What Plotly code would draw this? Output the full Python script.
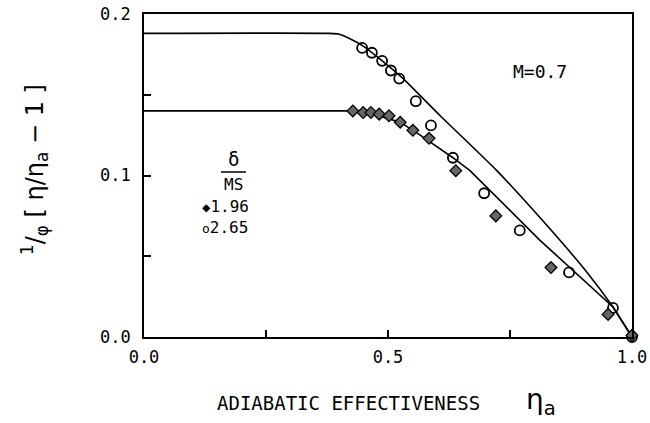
import plotly.graph_objects as go

# ---- data ----
circ_x = [0.447, 0.467, 0.488, 0.506, 0.523, 0.557, 0.588, 0.633, 0.697, 0.770, 0.871, 0.961, 1.002, 1.000]
circ_y = [0.179, 0.176, 0.171, 0.165, 0.160, 0.146, 0.131, 0.111, 0.089, 0.066, 0.040, 0.018, 0.006, 0.000]

diam_x = [0.428, 0.449, 0.465, 0.482, 0.502, 0.525, 0.551, 0.584, 0.639, 0.721, 0.834, 0.951, 1.000]
diam_y = [0.140, 0.139, 0.139, 0.138, 0.137, 0.133, 0.128, 0.123, 0.103, 0.075, 0.043, 0.014, 0.001]

upper_x = [0.0, 0.38, 0.40, 0.42, 0.45, 0.48, 0.531, 0.607, 0.723, 0.82, 0.908, 0.96, 1.0]
upper_y = [0.188, 0.188, 0.1875, 0.185, 0.180, 0.173, 0.160, 0.137, 0.103, 0.071, 0.040, 0.019, 0.0]

lower_x = [0.0, 0.426, 0.47, 0.525, 0.566, 0.633, 0.668, 0.811, 0.961, 1.0]
lower_y = [0.140, 0.140, 0.138, 0.133, 0.125, 0.111, 0.103, 0.060, 0.0186, 0.0]

x_tickvals = [0.0, 0.5, 1.0]
x_ticktext = ["0.0", "0.5", "1.0"]
y_tickvals = [0.0, 0.1, 0.2]
y_ticktext = ["0.0", "0.1", "0.2"]
legend_labels = ["1.96", "2.65"]

FONT = "DejaVu Sans Mono"

fig = go.Figure()
fig.add_trace(go.Scatter(x=upper_x, y=upper_y, mode="lines",
                         line=dict(color="black", width=1.6, shape="spline", smoothing=0.5),
                         showlegend=False))
fig.add_trace(go.Scatter(x=lower_x, y=lower_y, mode="lines",
                         line=dict(color="black", width=1.6), showlegend=False))
fig.add_trace(go.Scatter(x=circ_x, y=circ_y, mode="markers", cliponaxis=False,
                         marker=dict(symbol="circle-open", size=10, color="black",
                                     line=dict(width=1.8, color="black")),
                         showlegend=False))
fig.add_trace(go.Scatter(x=diam_x, y=diam_y, mode="markers", cliponaxis=False,
                         marker=dict(symbol="diamond", size=9, color="#666666",
                                     line=dict(width=1.3, color="black")),
                         showlegend=False))

axis_common = dict(showgrid=False, zeroline=False, showline=True, linecolor="black",
                   linewidth=1.6, mirror=True, ticks="inside", ticklen=7,
                   tickwidth=1.5, tickcolor="black", automargin=False,
                   tickfont=dict(family=FONT, size=17, color="black"))

fig.update_xaxes(range=[0, 1], tickvals=x_tickvals, ticktext=x_ticktext,
                 minor=dict(tickvals=[0.25, 0.75], ticks="inside", ticklen=7,
                            tickwidth=1.5, tickcolor="black"),
                 ticklabelstandoff=4, **axis_common)
fig.update_yaxes(range=[0, 0.2], tickvals=y_tickvals, ticktext=y_ticktext,
                 minor=dict(tickvals=[0.05, 0.15], ticks="inside", ticklen=7,
                            tickwidth=1.5, tickcolor="black"),
                 ticklabelstandoff=8, **axis_common)

ann = []
# M=0.7
ann.append(dict(x=0.811, y=0.1647, xref="x", yref="y", text="M=0.7", showarrow=False,
                font=dict(family=FONT, size=18, color="black")))
# legend block
ann.append(dict(x=(233 - 144) / 488, y=(337 - 159) / 1615, xref="x", yref="y",
                text="δ", showarrow=False, font=dict(family=FONT, size=19, color="black")))
ann.append(dict(x=(233 - 144) / 488, y=(337 - 184) / 1615, xref="x", yref="y",
                text="MS", showarrow=False, font=dict(family=FONT, size=16, color="black")))
ann.append(dict(x=(200 - 144) / 488, y=(337 - 206) / 1615, xref="x", yref="y", xanchor="left",
                text="<span style='font-size:14px'>◆</span>" + legend_labels[0],
                showarrow=False, font=dict(family=FONT, size=16, color="black")))
ann.append(dict(x=(200 - 144) / 488, y=(337 - 227) / 1615, xref="x", yref="y", xanchor="left",
                text="<span style='font-size:13px'>o</span>" + legend_labels[1],
                showarrow=False, font=dict(family=FONT, size=16, color="black")))
# x title
ann.append(dict(x=(215 - 144) / 488, y=(337 - 403) / 323, xref="paper", yref="paper",
                xanchor="left", yanchor="middle", text="ADIABATIC EFFECTIVENESS",
                showarrow=False, font=dict(family=FONT, size=19, color="black")))
ann.append(dict(x=(524 - 144) / 488, y=(337 - 401) / 323, xref="paper", yref="paper",
                xanchor="left", yanchor="middle", text="η<sub>a</sub>",
                showarrow=False, font=dict(family="DejaVu Sans", size=28, color="black")))
# y title
ann.append(dict(x=(34 - 144) / 488, y=(337 - 170) / 323, xref="paper", yref="paper",
                xanchor="center", yanchor="middle", textangle=-90,
                text="<sup>1</sup>/<sub>φ</sub> [ η/η<sub>a</sub> − 1 ]",
                showarrow=False, font=dict(family="DejaVu Sans", size=24, color="black")))

fig.update_layout(
    width=650, height=423,
    margin=dict(l=144, r=18, t=14, b=86),
    paper_bgcolor="white", plot_bgcolor="white",
    annotations=ann,
    shapes=[dict(type="line", xref="x", yref="y",
                 x0=(221 - 144) / 488, x1=(246 - 144) / 488,
                 y0=(337 - 172) / 1615, y1=(337 - 172) / 1615,
                 line=dict(color="black", width=1.5))],
)

fig.write_html("out.html")
